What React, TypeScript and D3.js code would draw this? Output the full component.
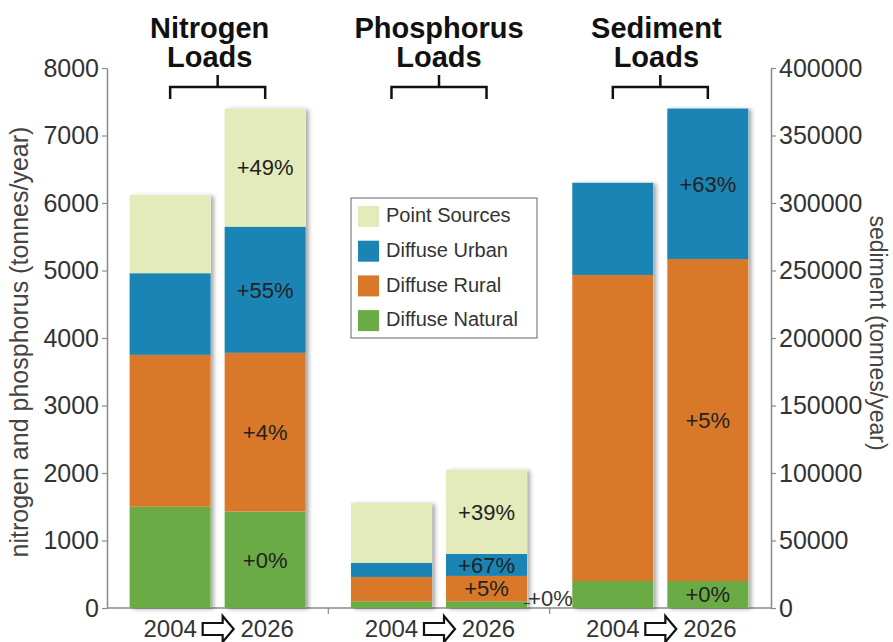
import React, { useEffect, useRef } from 'react';
import * as d3 from 'd3';

const groups = ["Nitrogen", "Phosphorus", "Sediment"];
const years = ["2004", "2026"];
// stacked bottom to top
const sources = ["Diffuse Natural", "Diffuse Rural", "Diffuse Urban", "Point Sources"];
const legendOrder = ["Point Sources", "Diffuse Urban", "Diffuse Rural", "Diffuse Natural"];
const colors = ["#6aab45", "#d97829", "#1a84b4", "#e3ebbb"];

const nitrogen2004 = [1500, 2250, 1210, 1160];
const nitrogen2026 = [1430, 2350, 1870, 1750];
const phosphorus2004 = [100, 360, 207, 888];
const phosphorus2026 = [100, 375, 325, 1250];
const sediment2004 = [20000, 226700, 68300, 0];
const sediment2026 = [20000, 238500, 111500, 0];

const nitrogenChange = ["+0%", "+4%", "+55%", "+49%"];
const phosphorusChange = ["+0%", "+5%", "+67%", "+39%"];
const sedimentChange = ["+0%", "+5%", "+63%", ""];

const leftTicks = [0, 1000, 2000, 3000, 4000, 5000, 6000, 7000, 8000];
const rightTicks = [0, 50000, 100000, 150000, 200000, 250000, 300000, 350000, 400000];

const rows = [
  { group: "Nitrogen", year: "2004", values: nitrogen2004, labels: null },
  { group: "Nitrogen", year: "2026", values: nitrogen2026, labels: nitrogenChange },
  { group: "Phosphorus", year: "2004", values: phosphorus2004, labels: null },
  { group: "Phosphorus", year: "2026", values: phosphorus2026, labels: phosphorusChange },
  { group: "Sediment", year: "2004", values: sediment2004, labels: null },
  { group: "Sediment", year: "2026", values: sediment2026, labels: sedimentChange },
];

const FONT = "'Liberation Sans', Arial, sans-serif";

const App = () => {
  const svgRef = useRef<SVGSVGElement | null>(null);

  useEffect(() => {
    if (!svgRef.current) return;
    const svg = d3.select(svgRef.current);
    svg.selectAll("*").remove();

    const W = 893, H = 642;
    const left = 107, right = 771, top = 68, base = 608;

    svg.append("rect").attr("width", W).attr("height", H).attr("fill", "white");

    const defs = svg.append("defs");
    defs.append("filter")
      .attr("id", "shadow")
      .attr("x", "-10%").attr("y", "-10%").attr("width", "130%").attr("height", "120%")
      .append("feDropShadow")
      .attr("dx", 3).attr("dy", 1).attr("stdDeviation", 2)
      .attr("flood-color", "#000").attr("flood-opacity", 0.35);

    const xGroup = d3.scaleBand().domain(groups).range([left, right]);
    const xYear = d3.scaleBand().domain(years).range([0, xGroup.bandwidth()])
      .paddingInner(0.147).paddingOuter(0.238);
    const yLeft = d3.scaleLinear().domain([0, 8000]).range([base, top]);
    const yRight = d3.scaleLinear().domain([0, 400000]).range([base, top]);
    const yFor = (g: string) => (g === "Sediment" ? yRight : yLeft);

    // axes
    const axL = svg.append("g").attr("transform", `translate(${left},0)`)
      .call(d3.axisLeft(yLeft).tickValues(leftTicks).tickSize(5).tickSizeOuter(0).tickFormat(d3.format("d")));
    const axR = svg.append("g").attr("transform", `translate(${right},0)`)
      .call(d3.axisRight(yRight).tickValues(rightTicks).tickSize(5).tickSizeOuter(0).tickFormat(d3.format("d")));
    [axL, axR].forEach(ax => {
      ax.select(".domain").attr("stroke", "#8a8a8a").attr("stroke-width", 1.5);
      ax.selectAll(".tick line").attr("stroke", "#8a8a8a").attr("stroke-width", 1.2);
      ax.selectAll(".tick text").attr("fill", "#333").attr("font-size", 25)
        .attr("font-family", FONT);
    });
    axL.selectAll(".tick text").attr("x", -8);
    axR.selectAll(".tick text").attr("x", 8);

    // baseline with group separators
    svg.append("line").attr("x1", left).attr("x2", right).attr("y1", base).attr("y2", base)
      .attr("stroke", "#8a8a8a").attr("stroke-width", 1.5);
    groups.slice(1).forEach(g => {
      const x = xGroup(g)!;
      svg.append("line").attr("x1", x).attr("x2", x).attr("y1", base).attr("y2", base + 6)
        .attr("stroke", "#8a8a8a").attr("stroke-width", 1.2);
    });

    // axis titles
    svg.append("text")
      .attr("transform", `translate(21,${342}) rotate(-90)`)
      .attr("text-anchor", "middle").attr("dominant-baseline", "middle")
      .attr("font-size", 25).attr("fill", "#444").attr("font-family", FONT)
      .text("nitrogen and phosphorus (tonnes/year)");
    svg.append("text")
      .attr("transform", `translate(876,${333}) rotate(90)`)
      .attr("text-anchor", "middle").attr("dominant-baseline", "middle")
      .attr("font-size", 23).attr("fill", "#444").attr("font-family", FONT)
      .text("sediment (tonnes/year)");

    // bars
    const stack = d3.stack<any>().keys(sources.map((_, i) => String(i)))
      .value((d, k) => d.values[+k]);
    const series = stack(rows);

    rows.forEach((r, ri) => {
      const x0 = xGroup(r.group)! + xYear(r.year)!;
      const bw = xYear.bandwidth();
      const y = yFor(r.group);
      const g = svg.append("g");
      const total = d3.sum(r.values);
      // shadow underlay
      g.append("rect").attr("x", x0).attr("y", y(total)).attr("width", bw)
        .attr("height", y(0) - y(total)).attr("fill", "white").attr("filter", "url(#shadow)");
      series.forEach((s, si) => {
        const [a, b] = s[ri];
        if (b - a <= 0) return;
        g.append("rect").attr("x", x0).attr("y", y(b)).attr("width", bw)
          .attr("height", y(a) - y(b)).attr("fill", colors[si]);
      });
      if (r.labels) {
        series.forEach((s, si) => {
          const [a, b] = s[ri];
          const lab = r.labels![si];
          if (!lab) return;
          const h = y(a) - y(b);
          const cy = (y(a) + y(b)) / 2;
          if (h < 14) {
            g.append("line").attr("x1", x0 + bw - 3).attr("x2", x0 + bw + 3)
              .attr("y1", cy - 1).attr("y2", cy - 1).attr("stroke", "#333").attr("stroke-width", 1);
            g.append("text").attr("x", x0 + bw + 1).attr("y", cy - 4)
              .attr("text-anchor", "start").attr("dominant-baseline", "middle")
              .attr("font-size", 22).attr("fill", "#333").attr("font-family", FONT).text(lab);
          } else {
            g.append("text").attr("x", x0 + bw / 2).attr("y", cy + 2)
              .attr("text-anchor", "middle").attr("dominant-baseline", "middle")
              .attr("font-size", 22).attr("fill", "#222").attr("font-family", FONT).text(lab);
          }
        });
      }
    });

    // group titles, brackets, year labels and arrows
    groups.forEach(gname => {
      const gx = xGroup(gname)!;
      const cx = gx + xGroup.bandwidth() / 2;
      const c1 = gx + xYear("2004")! + xYear.bandwidth() / 2;
      const c2 = gx + xYear("2026")! + xYear.bandwidth() / 2;
      const tx = gname === "Nitrogen" ? cx - 8 : gname === "Sediment" ? cx - 4 : cx;

      const title = svg.append("text").attr("text-anchor", "middle")
        .attr("font-size", 29).attr("font-weight", 700).attr("fill", "#111").attr("font-family", FONT);
      title.append("tspan").attr("x", tx).attr("y", 38).text(`${gname}`);
      title.append("tspan").attr("x", tx).attr("y", 67).text("Loads");

      svg.append("path")
        .attr("d", `M${c1},99 V87 H${c2} V99 M${cx},87 V75`)
        .attr("fill", "none").attr("stroke", "#111").attr("stroke-width", 2.5);

      years.forEach(yr => {
        svg.append("text")
          .attr("x", gx + xYear(yr)! + xYear.bandwidth() / 2 + (yr === "2026" ? 2 : 0))
          .attr("y", 637).attr("text-anchor", "middle")
          .attr("font-size", 24).attr("fill", "#333").attr("font-family", FONT).text(yr);
      });

      const ax = cx - 15;
      svg.append("path")
        .attr("d", `M${ax},623 H${ax + 20} V616 L${ax + 31},629 L${ax + 20},642 V635 H${ax} Z`)
        .attr("fill", "white").attr("stroke", "#111").attr("stroke-width", 2.2)
        .attr("stroke-linejoin", "miter");
    });

    // legend
    const lg = svg.append("g").attr("transform", "translate(351,198)");
    lg.append("rect").attr("width", 186).attr("height", 140)
      .attr("fill", "white").attr("stroke", "#666").attr("stroke-width", 1);
    legendOrder.forEach((name, i) => {
      const ci = sources.indexOf(name);
      const row = lg.append("g").attr("transform", `translate(7,${8 + i * 34.7})`);
      row.append("rect").attr("width", 21).attr("height", 21).attr("fill", colors[ci]);
      row.append("text").attr("x", 28).attr("y", 11).attr("dominant-baseline", "middle")
        .attr("font-size", 20).attr("fill", "#333").attr("font-family", FONT).text(name);
    });
  }, []);

  return (
    <svg ref={svgRef} width={893} height={642} viewBox="0 0 893 642"
      style={{ position: 'absolute', left: 0, top: 0, display: 'block' }} />
  );
};

export default App;
